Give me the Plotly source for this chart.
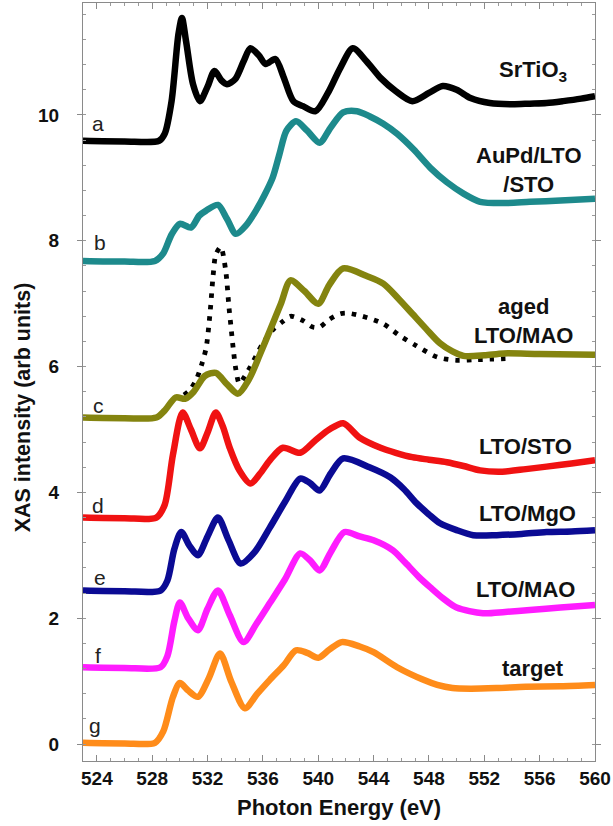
import plotly.graph_objects as go

# ---- data (photon energy eV, XAS intensity arb. units, offset stacked) ----
a_x = [523.0, 526.0, 528.5, 528.9, 529.4, 529.9, 530.15, 530.45, 530.95, 531.45, 532.0, 532.5, 533.0, 533.4, 534.0, 534.6, 535.1, 535.7, 536.2, 536.9, 537.5, 538.2, 538.9, 539.8, 540.7, 541.6, 542.5, 543.5, 544.5, 545.6, 546.8, 548.0, 549.0, 550.0, 551.0, 552.4, 554.0, 555.3, 556.5, 557.7, 559.0, 560.0]
a_y = [9.59, 9.58, 9.59, 9.7, 10.22, 11.29, 11.54, 11.17, 10.49, 10.22, 10.45, 10.70, 10.55, 10.49, 10.57, 10.85, 11.06, 10.95, 10.81, 10.89, 10.6, 10.22, 10.14, 10.06, 10.35, 10.75, 11.06, 10.85, 10.59, 10.38, 10.22, 10.35, 10.46, 10.40, 10.27, 10.19, 10.17, 10.18, 10.19, 10.22, 10.26, 10.3]

b_x = [523.0, 526.0, 528.2, 528.8, 529.4, 530.0, 530.8, 531.4, 531.9, 532.75, 533.4, 534.05, 534.8, 535.5, 536.1, 536.7, 537.2, 537.7, 538.4, 539.2, 540.1, 540.9, 541.8, 542.8, 543.7, 544.7, 545.7, 546.9, 548.1, 549.3, 550.5, 551.7, 553.5, 555.3, 557.5, 560.0]
b_y = [7.68, 7.67, 7.68, 7.8, 8.1, 8.27, 8.21, 8.4, 8.48, 8.57, 8.35, 8.11, 8.25, 8.48, 8.72, 9.0, 9.38, 9.75, 9.90, 9.75, 9.56, 9.8, 10.04, 10.06, 9.98, 9.86, 9.70, 9.45, 9.16, 8.93, 8.75, 8.62, 8.60, 8.62, 8.64, 8.67]

c_x = [523.0, 526.0, 528.3, 528.9, 529.7, 530.4, 531.0, 531.8, 532.6, 533.4, 534.2, 535.0, 535.8, 536.5, 537.3, 538.0, 539.0, 540.0, 540.8, 541.8, 543.5, 544.7, 545.8, 546.8, 547.8, 548.8, 549.7, 550.5, 552.0, 553.4, 556.0, 560.0]
c_y = [5.19, 5.18, 5.19, 5.3, 5.51, 5.49, 5.6, 5.85, 5.90, 5.72, 5.57, 5.8, 6.2, 6.57, 7.0, 7.37, 7.2, 7.0, 7.3, 7.56, 7.44, 7.32, 7.08, 6.84, 6.6, 6.37, 6.24, 6.17, 6.18, 6.21, 6.20, 6.19]

cdot_x = [530.3, 530.7, 531.2, 531.6, 531.9, 532.2, 532.4, 532.6, 532.95, 533.3, 533.55, 533.7, 533.85, 534.05, 534.3, 534.7, 535.1, 536.0, 536.7, 537.45, 538.0, 538.9, 539.6, 540.1, 540.8, 541.6, 542.1, 543.2, 544.7, 545.9, 547.1, 548.6, 550.0, 551.5, 553.9]
cdot_y = [5.55, 5.62, 5.8, 6.05, 6.3, 6.9, 7.44, 7.78, 7.9, 7.55, 6.94, 6.62, 6.3, 5.95, 5.73, 5.85, 6.0, 6.37, 6.58, 6.72, 6.8, 6.73, 6.63, 6.63, 6.75, 6.84, 6.85, 6.8, 6.68, 6.49, 6.33, 6.15, 6.10, 6.11, 6.13]

d_x = [523.0, 526.0, 528.3, 528.9, 529.5, 530.2, 530.8, 531.45, 532.0, 532.6, 533.1, 533.6, 534.3, 535.1, 535.8, 536.5, 537.45, 538.7, 539.8, 540.8, 541.8, 543.0, 544.5, 545.6, 546.8, 548.0, 549.3, 550.5, 551.7, 553.3, 555.0, 556.5, 558.3, 560.0]
d_y = [3.60, 3.59, 3.60, 3.8, 4.6, 5.27, 5.0, 4.70, 4.95, 5.27, 5.05, 4.71, 4.35, 4.14, 4.3, 4.51, 4.71, 4.63, 4.83, 5.0, 5.10, 4.87, 4.71, 4.63, 4.56, 4.52, 4.48, 4.42, 4.35, 4.33, 4.37, 4.41, 4.46, 4.51]

e_x = [523.0, 526.0, 528.6, 529.1, 529.6, 530.1, 530.7, 531.3, 532.0, 532.75, 533.5, 534.4, 535.4, 536.5, 537.6, 538.7, 539.4, 540.1, 540.9, 541.8, 543.7, 545.2, 546.2, 547.1, 548.0, 548.8, 550.0, 551.2, 552.9, 554.7, 556.5, 558.3, 560.0]
e_y = [2.44, 2.43, 2.44, 2.6, 3.1, 3.37, 3.15, 3.0, 3.3, 3.60, 3.25, 2.87, 3.05, 3.44, 3.85, 4.22, 4.15, 4.03, 4.3, 4.54, 4.40, 4.24, 4.05, 3.83, 3.65, 3.51, 3.4, 3.32, 3.32, 3.34, 3.37, 3.38, 3.40]

f_x = [523.0, 526.0, 528.6, 529.1, 529.6, 530.0, 530.6, 531.3, 532.0, 532.75, 533.6, 534.6, 535.5, 536.5, 537.6, 538.7, 539.4, 540.1, 540.9, 541.9, 543.0, 544.0, 545.4, 546.3, 547.3, 548.1, 549.0, 550.0, 551.9, 553.5, 555.3, 557.5, 560.0]
f_y = [1.22, 1.21, 1.22, 1.4, 1.95, 2.25, 2.0, 1.81, 2.15, 2.44, 2.05, 1.62, 1.9, 2.24, 2.62, 3.03, 2.92, 2.76, 3.05, 3.37, 3.30, 3.24, 3.08, 2.88, 2.65, 2.49, 2.32, 2.17, 2.08, 2.10, 2.13, 2.17, 2.21]

g_x = [523.0, 526.0, 528.2, 528.8, 529.5, 530.0, 530.6, 531.3, 532.1, 532.9, 533.7, 534.7, 535.6, 536.5, 537.5, 538.4, 539.2, 540.0, 540.8, 541.7, 543.0, 544.0, 545.7, 547.6, 548.6, 549.7, 551.0, 552.9, 555.0, 557.5, 560.0]
g_y = [0.02, 0.01, 0.02, 0.2, 0.75, 0.97, 0.85, 0.75, 1.05, 1.44, 1.0, 0.57, 0.8, 1.02, 1.25, 1.49, 1.45, 1.37, 1.5, 1.62, 1.55, 1.46, 1.22, 1.02, 0.94, 0.89, 0.88, 0.89, 0.91, 0.92, 0.94]

curve_names = ["SrTiO3", "AuPd/LTO/STO", "aged LTO/MAO (fresh, dotted)", "aged LTO/MAO", "LTO/STO", "LTO/MgO", "LTO/MAO", "target"]
curve_colors = ["#000000", "#1d8a8c", "#000000", "#84840f", "#f01212", "#0b0b94", "#ff1cff", "#ff8c1a"]

letters = ["a", "b", "c", "d", "e", "f", "g"]
letter_x = [524.1, 524.2, 524.1, 524.1, 524.2, 524.1, 523.9]
letter_y = [9.86, 7.97, 5.38, 3.79, 2.65, 1.41, 0.30]

right_labels = ["SrTiO<sub>3</sub>", "AuPd/LTO<br>/STO", "aged<br>LTO/MAO", "LTO/STO", "LTO/MgO", "LTO/MAO", "target"]
right_x = [555.5, 555.2, 554.8, 555.0, 555.1, 555.0, 555.5]
right_y = [10.7, 9.12, 6.73, 4.73, 3.66, 2.46, 1.2]

x_ticks = list(range(524, 561, 4))
y_ticks = [0, 2, 4, 6, 8, 10]

FONT = "Liberation Sans, Arial, Helvetica, sans-serif"

fig = go.Figure()
series = [(a_x, a_y), (b_x, b_y), (cdot_x, cdot_y), (c_x, c_y), (d_x, d_y), (e_x, e_y), (f_x, f_y), (g_x, g_y)]
for i, (xs, ys) in enumerate(series):
    dotted = i == 2
    fig.add_trace(go.Scatter(
        x=xs, y=ys, mode="lines", name=curve_names[i],
        line=dict(color=curve_colors[i], width=4.8 if dotted else 6.5,
                  shape="spline", smoothing=0.8,
                  dash="4.5px,7px" if dotted else "solid"),
        showlegend=False,
    ))

for t, xx, yy in zip(letters, letter_x, letter_y):
    fig.add_annotation(x=xx, y=yy, text=t, showarrow=False, xanchor="center", yanchor="middle",
                       font=dict(family=FONT, size=21, color="#222"))

for t, xx, yy in zip(right_labels, right_x, right_y):
    fig.add_annotation(x=xx, y=yy, text=t, showarrow=False, xanchor="center", yanchor="middle",
                       align="center",
                       font=dict(family=FONT, size=22, color="#111", weight="bold"))

fig.add_annotation(xref="paper", yref="paper", x=0.5, y=-0.061, text="Photon Energy (eV)", showarrow=False,
                   xanchor="center", yanchor="middle", font=dict(family=FONT, size=22, color="#111", weight="bold"))
fig.add_annotation(xref="paper", yref="paper", x=-0.118, y=0.466, text="XAS intensity (arb units)", showarrow=False,
                   textangle=-90, xanchor="center", yanchor="middle",
                   font=dict(family=FONT, size=21.5, color="#111", weight="bold"))

fig.update_layout(
    width=613, height=826,
    margin=dict(l=83, r=18, t=3, b=65),
    paper_bgcolor="white", plot_bgcolor="white",
    font=dict(family=FONT, color="#111"),
)
fig.update_xaxes(
    range=[523, 560], tickvals=x_ticks, ticktext=[str(v) for v in x_ticks],
    showgrid=False, zeroline=False, showline=True, linecolor="#8a8a8a", linewidth=1.2,
    mirror="allticks", ticks="inside", ticklen=6, tickcolor="#8a8a8a",
    tickfont=dict(family=FONT, size=19, color="#111", weight="bold"),
    minor=dict(dtick=1, ticks="inside", ticklen=3, tickcolor="#9a9a9a"),
)
fig.update_yaxes(
    range=[-0.27, 11.78], tickvals=y_ticks, ticktext=[str(v) for v in y_ticks],
    showgrid=False, zeroline=False, showline=True, linecolor="#8a8a8a", linewidth=1.2,
    mirror="allticks", ticks="outside", ticklen=5, tickcolor="#8a8a8a",
    ticklabelstandoff=14,
    tickfont=dict(family=FONT, size=19, color="#111", weight="bold"),
    minor=dict(dtick=0.4, tick0=0, ticks="inside", ticklen=3, tickcolor="#9a9a9a"),
)

fig.write_html("out.html")
